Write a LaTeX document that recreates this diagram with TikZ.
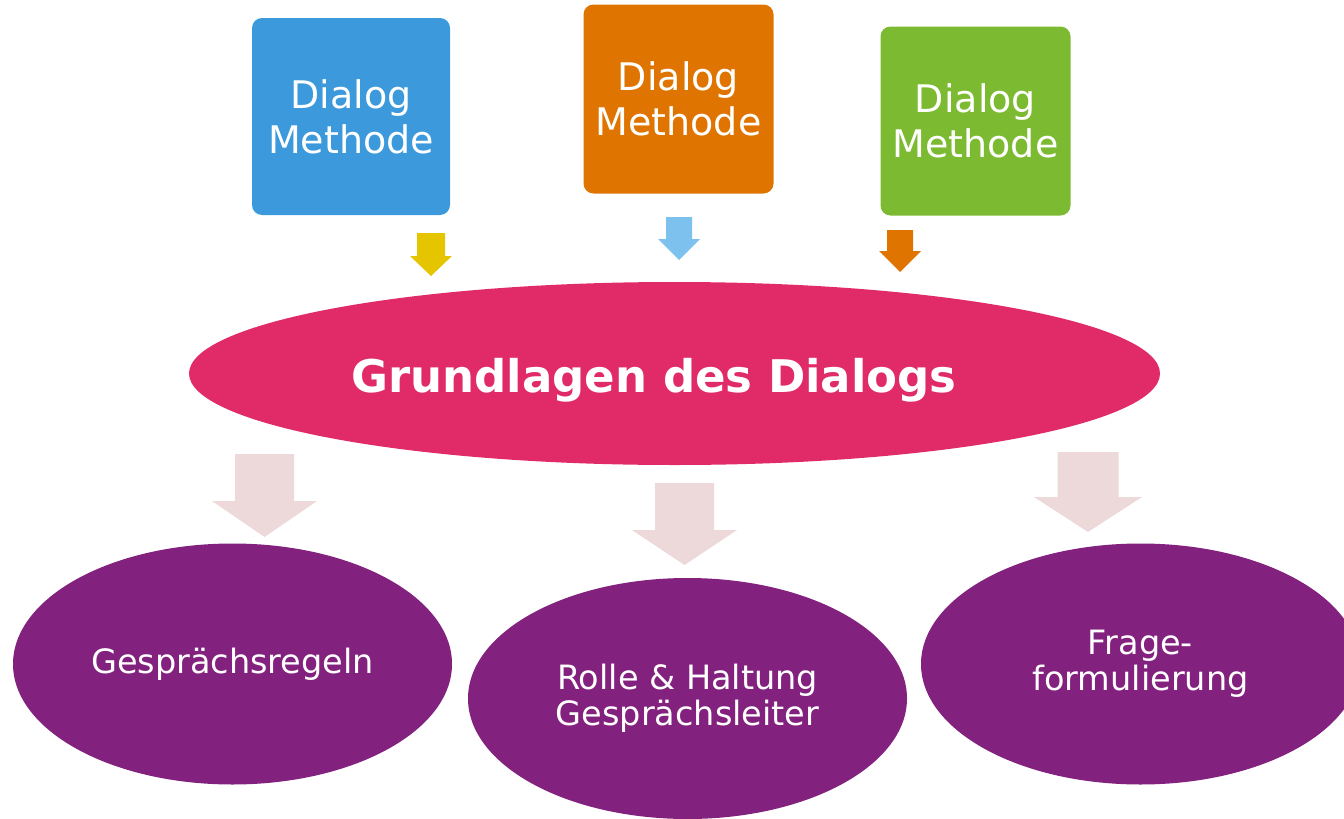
\documentclass[tikz,border=0pt]{standalone}
\usepackage{fontspec}
\setmainfont{DejaVu Sans}
\usetikzlibrary{shapes.geometric}
\definecolor{boxblau}{HTML}{3C9ADC}
\definecolor{boxorange}{HTML}{DF7500}
\definecolor{boxgruen}{HTML}{7CBA32}
\definecolor{grundpink}{HTML}{E02B68}
\definecolor{lila}{HTML}{83217F}
\definecolor{pfeilgelb}{HTML}{E5C500}
\definecolor{pfeilblau}{HTML}{7DC1EE}
\definecolor{pfeilblass}{HTML}{EDD9DA}
\tikzset{
  methode/.style={fill=#1, rounded corners=10pt, minimum width=190pt, minimum height=189pt,
    text=white, align=center, font=\fontsize{38}{45}\selectfont},
  grundlage/.style={ellipse, fill=grundpink, minimum width=971pt, minimum height=183pt,
    inner sep=0pt, text=white, font=\fontsize{45}{50}\bfseries\selectfont},
  thema/.style={ellipse, fill=lila, minimum width=439pt, minimum height=241pt,
    inner sep=0pt, text=white, align=center, font=\fontsize{33.5}{36}\selectfont}
}
% block arrow: colour, centre x, top, head start, tip, half shaft, half head
\newcommand{\blockpfeil}[7]{%
  \fill[#1] (#2-#6,#3) -- (#2+#6,#3) -- (#2+#6,#4) -- (#2+#7,#4) -- (#2,#5)
    -- (#2-#7,#4) -- (#2-#6,#4) -- cycle;}
\begin{document}
\begin{tikzpicture}[x=1pt, y=-1pt]
	\useasboundingbox (0,0) rectangle (1344,819);
	% Methoden oben
	\node[methode=boxblau, minimum width=198pt, minimum height=197pt] (m1) at (351,116.5) {Dialog\\Methode};
	\node[methode=boxorange] (m2) at (678.5,99) {Dialog\\Methode};
	\node[methode=boxgruen] (m3) at (975.5,121) {Dialog\\Methode};
	\blockpfeil{pfeilgelb}{431}{233}{256}{276}{14}{21}
	\blockpfeil{pfeilblau}{679}{217}{239}{260}{13}{21}
	\blockpfeil{boxorange}{900}{230}{251}{272}{13}{21}
	% Grundlagen
	\node[grundlage] (g) at (674.5,373.5) {};
	\node[font=\fontsize{45}{50}\bfseries\selectfont, text=white] (gt) at (654,380) {Grundlagen des Dialogs};
	\blockpfeil{pfeilblass}{264.5}{454}{501}{537}{29.5}{52.5}
	\blockpfeil{pfeilblass}{684.5}{483}{530}{565}{29.5}{52.5}
	\blockpfeil{pfeilblass}{1088}{452}{497}{532}{30.5}{54}
	% Themen unten
	\node[thema] (t1) at (232.5,664) {Gesprächsregeln};
	\node[thema] (t2) at (687.5,698.5) {Rolle \& Haltung\\Gesprächsleiter};
	\node[thema] (t3) at (1140.5,664) {Frage-\\formulierung};
\end{tikzpicture}
\end{document}
